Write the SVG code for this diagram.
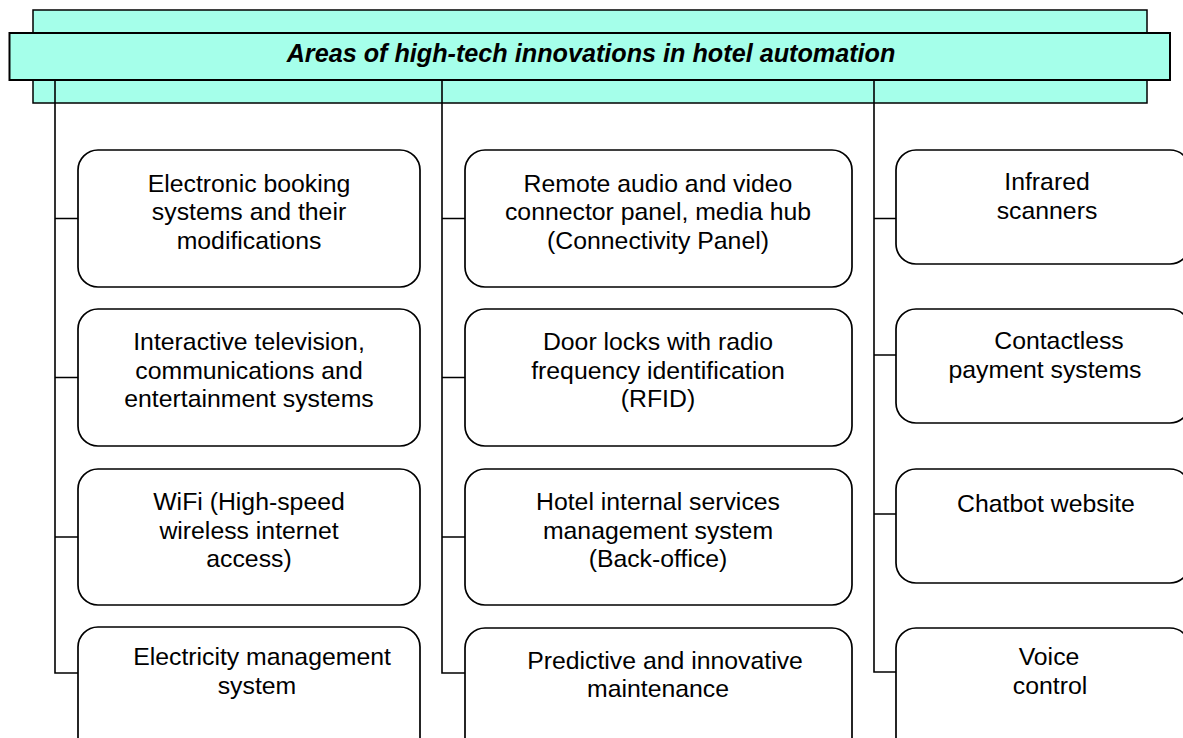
<svg xmlns="http://www.w3.org/2000/svg" width="1183" height="738" viewBox="0 0 1183 738">
  <style>
    .box { fill: #ffffff; stroke: #000000; stroke-width: 1.7; }
    .lbl { font-family: "Liberation Sans", Arial, sans-serif; font-size: 24.8px; fill: #000000; text-anchor: middle; }
    .title { font-family: "Liberation Sans", Arial, sans-serif; font-size: 25.2px; font-weight: bold; font-style: italic; fill: #000000; text-anchor: middle; }
    .wire { fill: none; stroke: #000000; stroke-width: 1.6; }
  </style>
  <rect width="1183" height="738" fill="#ffffff"/>

  <!-- Title banner: back plate and front strip -->
  <g id="title">
    <rect x="33" y="10" width="1114" height="93" fill="#a5ffea" stroke="#000000" stroke-width="1.5"/>
    <rect x="9.5" y="33" width="1160.5" height="47" fill="#a5ffea" stroke="#000000" stroke-width="2"/>
    <text class="title" x="591" y="62">Areas of high-tech innovations in hotel automation</text>
  </g>

  <!-- Connectors: three trunks with branches to each box -->
  <g id="connectors" class="wire">
    <path d="M55 81 V673 H78 M55 218.5 H78 M55 377.5 H78 M55 537 H78"/>
    <path d="M442 81 V673 H465 M442 218.5 H465 M442 377.5 H465 M442 537 H465"/>
    <path d="M874 81 V672 H896 M874 218.5 H896 M874 355 H896 M874 514 H896"/>
  </g>

  <!-- Column 1 -->
  <g id="n-booking">
    <rect class="box" x="78" y="150" width="342" height="137" rx="20"/>
    <text class="lbl" x="249" y="191.5">Electronic booking</text>
    <text class="lbl" x="249" y="220">systems and their</text>
    <text class="lbl" x="249" y="248.5">modifications</text>
  </g>
  <g id="n-tv">
    <rect class="box" x="78" y="309" width="342" height="137" rx="20"/>
    <text class="lbl" x="249" y="350">Interactive television,</text>
    <text class="lbl" x="249" y="378.5">communications and</text>
    <text class="lbl" x="249" y="407">entertainment systems</text>
  </g>
  <g id="n-wifi">
    <rect class="box" x="78" y="469" width="342" height="136" rx="20"/>
    <text class="lbl" x="249" y="510">WiFi (High-speed</text>
    <text class="lbl" x="249" y="538.5">wireless internet</text>
    <text class="lbl" x="249" y="567">access)</text>
  </g>
  <g id="n-electricity">
    <rect class="box" x="78" y="627" width="342" height="137" rx="20"/>
    <text class="lbl" x="262" y="665">Electricity management</text>
    <text class="lbl" x="257" y="693.5">system</text>
  </g>

  <!-- Column 2 -->
  <g id="n-media">
    <rect class="box" x="465" y="150" width="387" height="137" rx="20"/>
    <text class="lbl" x="658" y="191.5">Remote audio and video</text>
    <text class="lbl" x="658" y="220">connector panel, media hub</text>
    <text class="lbl" x="658" y="248.5">(Connectivity Panel)</text>
  </g>
  <g id="n-rfid">
    <rect class="box" x="465" y="309" width="387" height="137" rx="20"/>
    <text class="lbl" x="658" y="350">Door locks with radio</text>
    <text class="lbl" x="658" y="378.5">frequency identification</text>
    <text class="lbl" x="658" y="407">(RFID)</text>
  </g>
  <g id="n-backoffice">
    <rect class="box" x="465" y="469" width="387" height="136" rx="20"/>
    <text class="lbl" x="658" y="510">Hotel internal services</text>
    <text class="lbl" x="658" y="538.5">management system</text>
    <text class="lbl" x="658" y="567">(Back-office)</text>
  </g>
  <g id="n-maintenance">
    <rect class="box" x="465" y="628" width="387" height="137" rx="20"/>
    <text class="lbl" x="665" y="668.5">Predictive and innovative</text>
    <text class="lbl" x="658" y="697">maintenance</text>
  </g>

  <!-- Column 3 -->
  <g id="n-infrared">
    <rect class="box" x="896" y="150" width="294" height="114" rx="20"/>
    <text class="lbl" x="1047" y="190">Infrared</text>
    <text class="lbl" x="1047" y="219">scanners</text>
  </g>
  <g id="n-payment">
    <rect class="box" x="896" y="309" width="294" height="114" rx="20"/>
    <text class="lbl" x="1059" y="348.5">Contactless</text>
    <text class="lbl" x="1045" y="377.5">payment systems</text>
  </g>
  <g id="n-chatbot">
    <rect class="box" x="896" y="469" width="294" height="114" rx="20"/>
    <text class="lbl" x="1046" y="511.5">Chatbot website</text>
  </g>
  <g id="n-voice">
    <rect class="box" x="896" y="628" width="294" height="137" rx="20"/>
    <text class="lbl" x="1049" y="665">Voice</text>
    <text class="lbl" x="1050" y="694">control</text>
  </g>
</svg>
